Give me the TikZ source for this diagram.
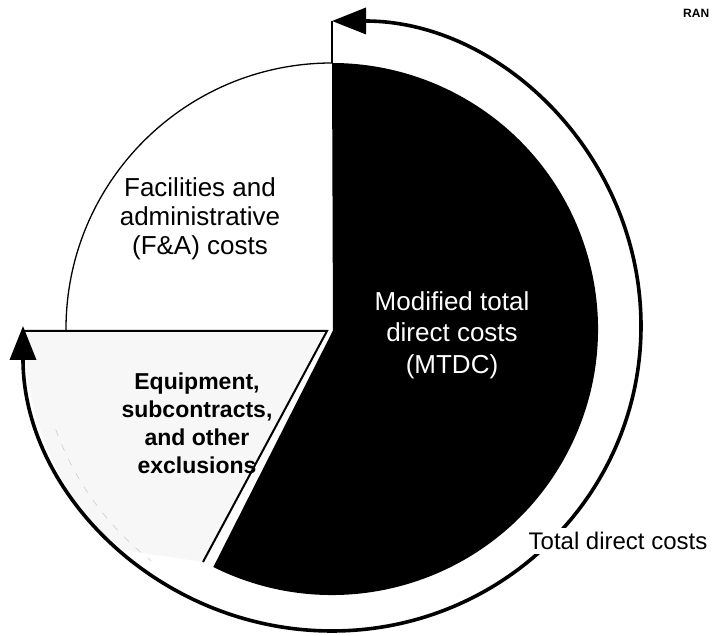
\documentclass[tikz,border=0pt]{standalone}
\usepackage{fontspec}
\setmainfont{Liberation Sans}
\usetikzlibrary{arrows.meta,calc}
\begin{document}
\begin{tikzpicture}[x=1pt,y=1pt,
  label26/.style={align=center,font=\fontsize{26}{29}\selectfont,inner sep=0pt},
  labelbold/.style={align=center,font=\fontsize{23}{28}\selectfont\bfseries,inner sep=0pt},
  thinline/.style={line width=1.3pt},
  wedgeline/.style={line width=2pt},
  bigarrow/.style={line width=3.6pt,{Triangle[length=34pt,width=26pt]}-{Triangle[length=34pt,width=26pt]}}]
\useasboundingbox (0,0) rectangle (713,636);
\coordinate (c) at (332,307);
% black MTDC sector
\fill[black] (333,305.5) -- ($(c)+(-116.5:266)$) arc[start angle=-116.5, end angle=90, radius=266] -- cycle;
% exclusions wedge
\coordinate (wa) at (327,305);
\coordinate (wb) at (203,74);
\coordinate (wl) at (24,305);
\fill[black!3] (wa) -- (wl) arc[start angle=180, end angle=225, radius=308] -- (wb) -- cycle;
\draw[gray!45,line width=0.5pt,dash pattern=on 7pt off 9pt] ($(c)+(200:294)$) arc[start angle=200, end angle=232, radius=294];
\draw[wedgeline] (wl) -- (wa) -- (wb);
% F&A quarter outline
\coordinate (ptop) at (332,573);
\coordinate (pleft) at (66,307);
\draw[thinline] (ptop) arc[start angle=90, end angle=180, radius=266] -- (66,305);
% total direct costs arc
\coordinate (atop) at (332,615);
\draw[thinline] (ptop) -- (atop);
\draw[bigarrow] (atop) arc[start angle=90, end angle=-180, x radius=309, y radius=305];
% labels
\node[label26] (fa) at (200,417) {Facilities and\\administrative\\(F\&A) costs};
\node[label26,text=white,font=\fontsize{26}{31.5}\selectfont] (mtdc) at (452,301) {Modified total\\direct costs\\(MTDC)};
\node[labelbold] (eq) at (197,213) {Equipment,\\subcontracts,\\and other\\exclusions};
\node[label26,font=\fontsize{24}{28}\selectfont,fill=white,inner sep=4pt] (tdc) at (618,95) {Total direct costs};
\node[anchor=west,font=\fontsize{12}{14}\selectfont\bfseries,inner sep=0pt] (ran) at (683,623) {RAN};
\end{tikzpicture}
\end{document}
